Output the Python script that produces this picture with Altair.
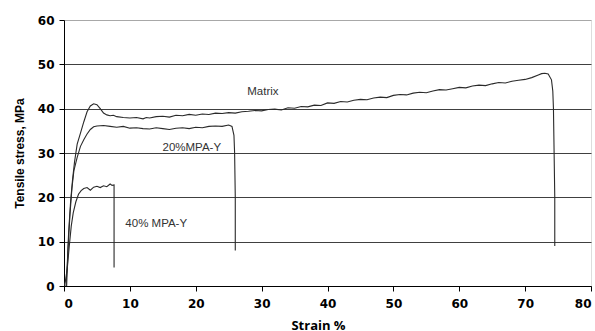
import altair as alt
import pandas as pd

# Matrix curve
matrix_x = [0.3, 0.5, 0.7, 1.0, 1.3, 1.6, 2.0, 2.5, 3.0, 3.5, 4.0, 4.5, 5.0, 5.5, 6.0, 6.5, 7.0, 7.5,
            8, 9, 10, 11, 12, 12.5, 13, 14, 15, 16, 17, 18, 19, 20, 21, 22, 23, 24, 25, 26, 27, 28, 29, 30,
            31, 32, 33, 34, 35, 36, 37, 38, 39, 40, 41, 42, 43, 44, 45, 46, 47, 48, 49, 50, 51, 52, 53, 54,
            55, 56, 57, 58, 59, 60, 61, 62, 63, 64, 65, 66, 67, 68, 69, 70, 71, 72, 72.5, 73, 73.5, 74.0,
            74.2, 74.3, 74.4, 74.5, 74.5]
matrix_y = [0, 5, 12, 19, 24, 28, 32, 34.5, 37, 39.3, 40.6, 41.1, 40.9, 40.0, 39.0, 38.6, 38.4, 38.5,
            38.2, 38.0, 37.9, 38.0, 37.7, 38.0, 37.9, 38.2, 38.3, 38.1, 38.5, 38.4, 38.7, 38.5, 38.8, 38.7,
            39.0, 38.9, 39.1, 39.0, 39.3, 39.4, 39.6, 39.5, 39.8, 39.9, 39.7, 40.2, 40.1, 40.5, 40.4, 40.8,
            40.7, 41.3, 41.2, 41.6, 41.5, 41.9, 42.1, 42.0, 42.4, 42.6, 42.5, 43.0, 43.2, 43.1, 43.5, 43.7,
            43.6, 44.0, 44.3, 44.2, 44.5, 44.8, 44.7, 45.1, 45.3, 45.2, 45.6, 45.9, 45.8, 46.2, 46.4, 46.6,
            47.0, 47.6, 47.9, 48.0, 47.8, 46.5, 44.0, 40.0, 30.0, 20.0, 9.0]

# 20%MPA-Y curve
mpa20_x = [0.4, 0.6, 0.9, 1.2, 1.5, 2.0, 2.5, 3.0, 3.5, 4.0, 4.5, 5, 6, 7, 8, 9, 10, 11, 12, 13, 14, 15, 16, 17,
           18, 19, 20, 21, 22, 23, 24, 25, 25.5, 25.8, 25.9, 26.0, 26.0]
mpa20_y = [0, 8, 16, 22, 26, 29, 31.5, 33, 34.3, 35.3, 35.9, 36.1, 36.2, 36.0, 35.8, 36.0, 35.6, 35.7, 35.5, 35.4,
           35.7, 35.5, 35.3, 35.6, 35.7, 35.5, 35.8, 35.7, 36.0, 36.1, 36.0, 36.3, 36.0, 34.0, 30.0, 20.0, 8.0]

# 40% MPA-Y curve
mpa40_x = [0.0, 0.2, 0.5, 0.8, 1.1, 1.4, 1.8, 2.2, 2.6, 3.0, 3.5, 4.0, 4.5, 5.0, 5.5, 6.0, 6.5, 7.0, 7.3, 7.6, 7.6]
mpa40_y = [0, 1, 4, 9, 13.5, 16.5, 19, 20.7, 21.5, 22, 22.2, 21.6, 22.3, 22.5, 22.2, 22.6, 22.4, 23.0, 22.7, 22.8,
           4.2]

# Curve labels
label_text = ["Matrix", "20%MPA-Y", "40% MPA-Y"]
label_x = [30.2, 19.4, 14.0]
label_y = [43.7, 31.2, 14.0]

rows = []
for name, xs, ys in [("Matrix", matrix_x, matrix_y), ("20%MPA-Y", mpa20_x, mpa20_y),
                     ("40% MPA-Y", mpa40_x, mpa40_y)]:
    for i, (x, y) in enumerate(zip(xs, ys)):
        rows.append({"series": name, "idx": i, "strain": x, "stress": y})
df = pd.DataFrame(rows)
labels = pd.DataFrame({"text": label_text, "x": label_x, "y": label_y})

x_scale = alt.Scale(domain=[0, 80], nice=False, zero=True)
y_scale = alt.Scale(domain=[0, 60], nice=False)

lines = alt.Chart(df).mark_line(color="#2a2a2a", strokeWidth=1.1, clip=True).encode(
    x=alt.X("strain:Q", scale=x_scale,
            axis=alt.Axis(title="Strain %", values=[0, 10, 20, 30, 40, 50, 60, 70, 80], grid=False,
                          domainColor="#000", tickColor="#000", tickSize=5, labelPadding=7,
                          labelFont="DejaVu Sans", labelFontWeight="bold", labelFontSize=12, labelColor="#000",
                          titleFont="Open Sans", titleFontWeight="bold", titleFontSize=13, titleColor="#000",
                          titlePadding=10, titleX=254)),
    y=alt.Y("stress:Q", scale=y_scale,
            axis=alt.Axis(title="Tensile stress, MPa", values=[0, 10, 20, 30, 40, 50, 60], grid=True,
                          gridColor={"condition": {"test": "datum.value == 60", "value": "#a8a8a8"},
                                     "value": "#404040"},
                          gridWidth=1,
                          domainColor="#000", tickColor="#000", tickSize=5, labelPadding=5,
                          labelFont="DejaVu Sans", labelFontWeight="bold", labelFontSize=12, labelColor="#000",
                          titleFont="Liberation Sans", titleFontWeight="bold", titleFontSize=12,
                          titleColor="#000", titlePadding=11)),
    detail="series:N",
    order="idx:Q",
)

text = alt.Chart(labels).mark_text(font="Liberation Sans", fontSize=11.5, color="#333").encode(
    x=alt.X("x:Q", scale=x_scale),
    y=alt.Y("y:Q", scale=y_scale),
    text="text:N",
)

chart = (lines + text).properties(
    width=527, height=266,
    autosize=alt.AutoSizeParams(type="none"),
    padding={"left": 64, "top": 20, "right": 4, "bottom": 45},
).configure_view(stroke="#a8a8a8", strokeWidth=1).configure(background="white")

chart.save("out.html", embed_options={"renderer": "svg", "actions": False})
